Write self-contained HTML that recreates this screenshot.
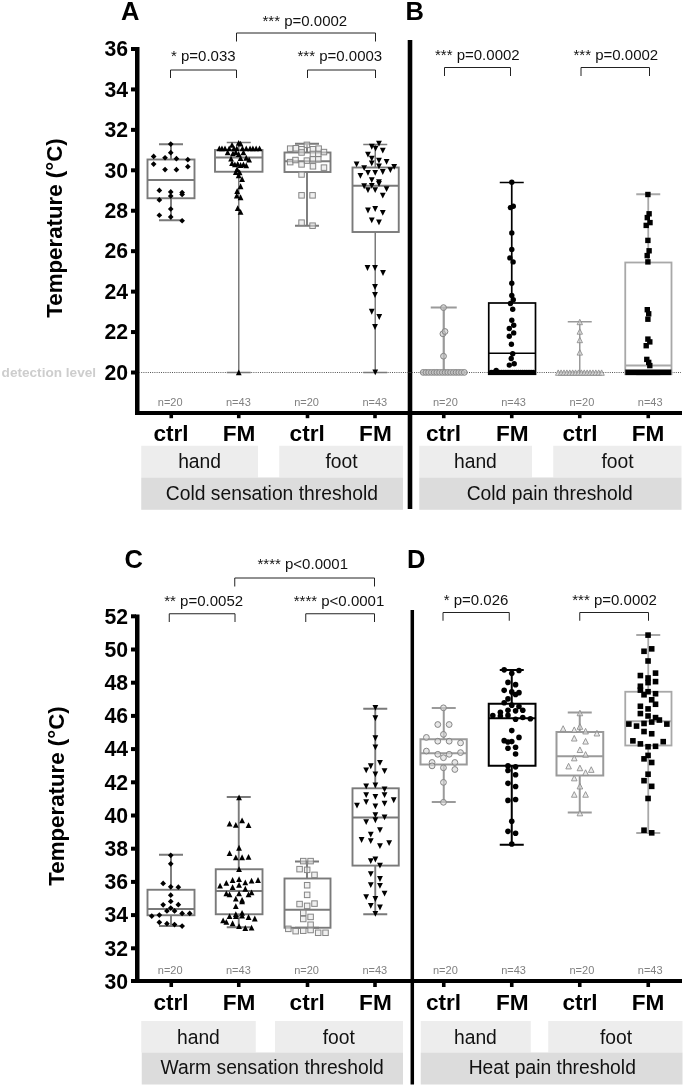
<!DOCTYPE html>
<html lang="en"><head><meta charset="utf-8"><title>Thermal thresholds</title>
<style>html,body{margin:0;padding:0;background:#fff}svg{display:block}text{font-family:"Liberation Sans", Arial, Helvetica, sans-serif}.b{font-weight:700}.tk{font-weight:700;font-size:21.2px;text-anchor:end}.xl{font-weight:700;font-size:22.6px;text-anchor:middle}.pv{font-size:15px;fill:#111}.n{font-size:11px;fill:#808080;text-anchor:middle}.g{font-size:19.3px;text-anchor:middle;fill:#111}.pl{font-weight:700;font-size:25.5px}</style></head><body>
<svg width="685" height="1088" viewBox="0 0 685 1088">
<rect width="685" height="1088" fill="#fff"/>
<rect x="141.25" y="445.75" width="116.75" height="31.75" fill="#ededed"/>
<rect x="279.25" y="445.75" width="123.75" height="31.75" fill="#ededed"/>
<rect x="419.25" y="445.75" width="112.75" height="31.75" fill="#ededed"/>
<rect x="553.25" y="445.75" width="128.25" height="31.75" fill="#ededed"/>
<rect x="141.25" y="477.5" width="261.75" height="32.3" fill="#dcdcdc"/>
<rect x="419.25" y="477.5" width="262.25" height="32.3" fill="#dcdcdc"/>
<rect x="141.25" y="1021" width="114.5" height="31.5" fill="#ededed"/>
<rect x="275" y="1021" width="128" height="31.5" fill="#ededed"/>
<rect x="420.75" y="1021" width="110" height="31.5" fill="#ededed"/>
<rect x="548.25" y="1021" width="134.25" height="31.5" fill="#ededed"/>
<rect x="141.75" y="1052.5" width="261.25" height="32" fill="#dcdcdc"/>
<rect x="420.75" y="1052.5" width="261.75" height="32" fill="#dcdcdc"/>
<text class="g" x="199.6" y="467.5">hand</text>
<text class="g" x="341.5" y="467.5">foot</text>
<text class="g" x="475.4" y="467.5">hand</text>
<text class="g" x="617.5" y="467.5">foot</text>
<text class="g" x="271.9" y="500">Cold sensation threshold</text>
<text class="g" x="549.75" y="500">Cold pain threshold</text>
<text class="g" x="198.4" y="1043.5">hand</text>
<text class="g" x="338.75" y="1043.5">foot</text>
<text class="g" x="475.4" y="1043.5">hand</text>
<text class="g" x="616.1" y="1043.5">foot</text>
<text class="g" x="272.1" y="1074.25">Warm sensation threshold</text>
<text class="g" x="552.25" y="1074.25">Heat pain threshold</text>
<g stroke="#000" fill="none">
<path d="M137.25 47V415" stroke-width="4.5"/>
<path d="M135 413.1H682" stroke-width="4"/>
<path d="M410 40V509" stroke-width="4.6"/>
<path d="M131 372.5H136" stroke-width="4"/>
<path d="M131 332.06H136" stroke-width="4"/>
<path d="M131 291.62H136" stroke-width="4"/>
<path d="M131 251.18H136" stroke-width="4"/>
<path d="M131 210.74H136" stroke-width="4"/>
<path d="M131 170.3H136" stroke-width="4"/>
<path d="M131 129.86H136" stroke-width="4"/>
<path d="M131 89.42H136" stroke-width="4"/>
<path d="M131 48.98H136" stroke-width="4"/>
<path d="M171.25 414V418.2" stroke-width="3.6"/>
<path d="M238.75 414V418.2" stroke-width="3.6"/>
<path d="M307.5 414V418.2" stroke-width="3.6"/>
<path d="M375 414V418.2" stroke-width="3.6"/>
<path d="M443.75 414V418.2" stroke-width="3.6"/>
<path d="M511.75 414V418.2" stroke-width="3.6"/>
<path d="M579.75 414V418.2" stroke-width="3.6"/>
<path d="M648.25 414V418.2" stroke-width="3.6"/>
<path d="M137.25 614.5V983" stroke-width="4.5"/>
<path d="M131 981.1H682" stroke-width="4"/>
<path d="M412.3 610V1084.5" stroke-width="3.5"/>
<path d="M131 948.3H136" stroke-width="4"/>
<path d="M131 915.1H136" stroke-width="4"/>
<path d="M131 881.9H136" stroke-width="4"/>
<path d="M131 848.7H136" stroke-width="4"/>
<path d="M131 815.5H136" stroke-width="4"/>
<path d="M131 782.3H136" stroke-width="4"/>
<path d="M131 749.1H136" stroke-width="4"/>
<path d="M131 715.9H136" stroke-width="4"/>
<path d="M131 682.7H136" stroke-width="4"/>
<path d="M131 649.5H136" stroke-width="4"/>
<path d="M131 616.3H136" stroke-width="4"/>
<path d="M171.25 982V987" stroke-width="3.6"/>
<path d="M238.75 982V987" stroke-width="3.6"/>
<path d="M307.5 982V987" stroke-width="3.6"/>
<path d="M375 982V987" stroke-width="3.6"/>
<path d="M443.75 982V987" stroke-width="3.6"/>
<path d="M511.75 982V987" stroke-width="3.6"/>
<path d="M579.75 982V987" stroke-width="3.6"/>
<path d="M648.25 982V987" stroke-width="3.6"/>
</g>
<text class="tk" x="128" y="379.8">20</text>
<text class="tk" x="128" y="339.36">22</text>
<text class="tk" x="128" y="298.92">24</text>
<text class="tk" x="128" y="258.48">26</text>
<text class="tk" x="128" y="218.04">28</text>
<text class="tk" x="128" y="177.6">30</text>
<text class="tk" x="128" y="137.16">32</text>
<text class="tk" x="128" y="96.72">34</text>
<text class="tk" x="128" y="56.28">36</text>
<text class="tk" x="128" y="988.8">30</text>
<text class="tk" x="128" y="955.6">32</text>
<text class="tk" x="128" y="922.4">34</text>
<text class="tk" x="128" y="889.2">36</text>
<text class="tk" x="128" y="856">38</text>
<text class="tk" x="128" y="822.8">40</text>
<text class="tk" x="128" y="789.6">42</text>
<text class="tk" x="128" y="756.4">44</text>
<text class="tk" x="128" y="723.2">46</text>
<text class="tk" x="128" y="690">48</text>
<text class="tk" x="128" y="656.8">50</text>
<text class="tk" x="128" y="623.6">52</text>
<text class="b" font-size="22.3" text-anchor="middle" transform="translate(62.2 228) rotate(-90)">Temperature (°C)</text>
<text class="b" font-size="22.3" text-anchor="middle" transform="translate(64 796) rotate(-90)">Temperature (°C)</text>
<text class="b" x="1.6" y="377" font-size="13.6" fill="#cdcdcd">detection level</text>
<path d="M139 372.5H681" stroke="#555" stroke-width="1" stroke-dasharray="1 1.2" fill="none"/>
<text class="pl" x="121" y="19.5">A</text>
<text class="pl" x="405.5" y="19.5">B</text>
<text class="pl" x="124.5" y="567.5">C</text>
<text class="pl" x="407" y="567.5">D</text>
<text class="xl" x="171" y="441.3">ctrl</text>
<text class="xl" x="239" y="441.3">FM</text>
<text class="xl" x="307.2" y="441.3">ctrl</text>
<text class="xl" x="375.4" y="441.3">FM</text>
<text class="xl" x="443.5" y="441.3">ctrl</text>
<text class="xl" x="512.2" y="441.3">FM</text>
<text class="xl" x="580" y="441.3">ctrl</text>
<text class="xl" x="648.1" y="441.3">FM</text>
<text class="xl" x="171" y="1009.7">ctrl</text>
<text class="xl" x="239" y="1009.7">FM</text>
<text class="xl" x="307.2" y="1009.7">ctrl</text>
<text class="xl" x="375.4" y="1009.7">FM</text>
<text class="xl" x="443.5" y="1009.7">ctrl</text>
<text class="xl" x="512.2" y="1009.7">FM</text>
<text class="xl" x="580" y="1009.7">ctrl</text>
<text class="xl" x="648.1" y="1009.7">FM</text>
<text class="n" x="170.2" y="406.2">n=20</text>
<text class="n" x="238.4" y="406.2">n=43</text>
<text class="n" x="306.6" y="406.2">n=20</text>
<text class="n" x="374.8" y="406.2">n=43</text>
<text class="n" x="445.4" y="406.2">n=20</text>
<text class="n" x="513.6" y="406.2">n=43</text>
<text class="n" x="581.9" y="406.2">n=20</text>
<text class="n" x="650.2" y="406.2">n=43</text>
<text class="n" x="170.2" y="974">n=20</text>
<text class="n" x="238.4" y="974">n=43</text>
<text class="n" x="306.6" y="974">n=20</text>
<text class="n" x="374.8" y="974">n=43</text>
<text class="n" x="445.4" y="974">n=20</text>
<text class="n" x="513.6" y="974">n=43</text>
<text class="n" x="581.9" y="974">n=20</text>
<text class="n" x="650.2" y="974">n=43</text>
<path d="M170.5 78V70H236.5V78" stroke="#222" stroke-width="1" fill="none"/>
<text class="pv" x="171" y="60.9" text-anchor="start">* p=0.033</text>
<path d="M307.5 78V70H375.5V78" stroke="#222" stroke-width="1" fill="none"/>
<text class="pv" x="297.5" y="60.9" text-anchor="start">*** p=0.0003</text>
<path d="M236.5 41.5V33H375.5V41.5" stroke="#222" stroke-width="1" fill="none"/>
<text class="pv" x="262.5" y="25.6" text-anchor="start">*** p=0.0002</text>
<path d="M444.5 76V67.5H510.5V76" stroke="#222" stroke-width="1" fill="none"/>
<text class="pv" x="435" y="60.1" text-anchor="start">*** p=0.0002</text>
<path d="M581 76V67.5H649.5V76" stroke="#222" stroke-width="1" fill="none"/>
<text class="pv" x="573.5" y="60.1" text-anchor="start">*** p=0.0002</text>
<path d="M169.25 622V613.75H235V622" stroke="#222" stroke-width="1" fill="none"/>
<text class="pv" x="164.25" y="606.4" text-anchor="start">** p=0.0052</text>
<path d="M305.75 622V613.75H374.5V622" stroke="#222" stroke-width="1" fill="none"/>
<text class="pv" x="293.75" y="606.4" text-anchor="start">**** p&lt;0.0001</text>
<path d="M234.75 586.5V578H374.5V586.5" stroke="#222" stroke-width="1" fill="none"/>
<text class="pv" x="257.5" y="569.4" text-anchor="start">**** p&lt;0.0001</text>
<path d="M443 620.75V612.5H509.25V620.75" stroke="#222" stroke-width="1" fill="none"/>
<text class="pv" x="443.75" y="605.15" text-anchor="start">* p=0.026</text>
<path d="M579.75 620.75V612.5H648.5V620.75" stroke="#222" stroke-width="1" fill="none"/>
<text class="pv" x="572.25" y="605.15" text-anchor="start">*** p=0.0002</text>
<g stroke="#7a7a7a" fill="none" stroke-width="1.9"><path d="M171 144.25V159.5M171 198.25V220.25M159 144.25H183M159 220.25H183" stroke-width="1.9"/><rect x="147.5" y="159.5" width="47" height="38.75"/><path d="M147.5 180H194.5"/></g>
<g stroke="#7a7a7a" fill="none" stroke-width="1.9"><path d="M238.75 142.5V150M238.75 171.75V372.5M226.75 142.5H250.75M226.75 372.5H250.75" stroke-width="1.5"/><rect x="215" y="150" width="47.5" height="21.75"/><path d="M215 157.5H262.5"/></g>
<g stroke="#7a7a7a" fill="none" stroke-width="1.9"><path d="M307 143.75V152.5M307 172V225.75M295 143.75H319M295 225.75H319" stroke-width="1.9"/><rect x="284.5" y="152.5" width="46" height="19.5"/><path d="M284.5 161.25H330.5"/></g>
<g stroke="#7a7a7a" fill="none" stroke-width="1.9"><path d="M375.25 144.5V167.5M375.25 232V372.5M363.25 144.5H387.25M363.25 372.5H387.25" stroke-width="1.5"/><rect x="352.5" y="167.5" width="46.25" height="64.5"/><path d="M352.5 185.75H398.75"/></g>
<g stroke="#9a9a9a" fill="none" stroke-width="2.2"><path d="M443.75 307.5V372.5M443.75 372.5V372.5M430.75 307.5H456.75M430.75 372.5H456.75" stroke-width="2.2"/><rect x="420" y="372.5" width="47.5" height="0"/><path d="M420 372.5H467.5"/></g>
<g stroke="#000" fill="none" stroke-width="1.7"><path d="M511.75 182.5V303M511.75 374.25V374.25M499.75 182.5H523.75M499.75 374.25H523.75" stroke-width="1.7"/><rect x="488.75" y="303" width="46.75" height="71.25"/><path d="M488.75 353.25H535.5"/></g>
<g stroke="#9a9a9a" fill="none" stroke-width="1.5"><path d="M579.75 321.75V372.5M579.75 372.5V372.5M567.75 321.75H591.75M567.75 372.5H591.75" stroke-width="1.5"/><rect x="557" y="372.5" width="45.5" height="0"/><path d="M557 372.5H602.5"/></g>
<g stroke="#a8a8a8" fill="none" stroke-width="1.8"><path d="M648.25 194.25V262.5M648.25 374.25V374.25M636.25 194.25H660.25M636.25 374.25H660.25" stroke-width="1.8"/><rect x="625.25" y="262.5" width="46.25" height="111.75"/><path d="M625.25 365.5H671.5"/></g>
<g stroke="#7a7a7a" fill="none" stroke-width="1.9"><path d="M171 854.75V889.75M171 915.25V926M159 854.75H183M159 926H183" stroke-width="1.9"/><rect x="147.5" y="889.75" width="47" height="25.5"/><path d="M147.5 909H194.5"/></g>
<g stroke="#7a7a7a" fill="none" stroke-width="1.9"><path d="M238.75 797V869.25M238.75 914.25V927.25M226.75 797H250.75M226.75 927.25H250.75" stroke-width="1.9"/><rect x="215.75" y="869.25" width="46.75" height="45"/><path d="M215.75 891H262.5"/></g>
<g stroke="#7a7a7a" fill="none" stroke-width="1.9"><path d="M307 861.5V878.5M307 927.75V927.75M295 861.5H319M295 927.75H319" stroke-width="1.9"/><rect x="284.5" y="878.5" width="46" height="49.25"/><path d="M284.5 909.75H330.5"/></g>
<g stroke="#7a7a7a" fill="none" stroke-width="1.9"><path d="M375.25 708.75V788.3M375.25 865.6V914.25M363.25 708.75H387.25M363.25 914.25H387.25" stroke-width="1.9"/><rect x="352.5" y="788.3" width="46.25" height="77.3"/><path d="M352.5 817.5H398.75"/></g>
<g stroke="#9a9a9a" fill="none" stroke-width="2"><path d="M443.75 708V739.25M443.75 764.5V802M431.75 708H455.75M431.75 802H455.75" stroke-width="2"/><rect x="420.5" y="739.25" width="46.25" height="25.25"/><path d="M420.5 753.25H466.75"/></g>
<g stroke="#000" fill="none" stroke-width="2"><path d="M511.75 670V703.75M511.75 765.75V844.75M499.75 670H523.75M499.75 844.75H523.75" stroke-width="2"/><rect x="488.75" y="703.75" width="46.75" height="62"/><path d="M488.75 718.25H535.5"/></g>
<g stroke="#9a9a9a" fill="none" stroke-width="2"><path d="M579.75 712.5V732M579.75 775.5V812.5M567.75 712.5H591.75M567.75 812.5H591.75" stroke-width="2"/><rect x="556.5" y="732" width="46.75" height="43.5"/><path d="M556.5 756.25H603.25"/></g>
<g stroke="#a8a8a8" fill="none" stroke-width="1.8"><path d="M648.25 635V691.75M648.25 745.5V833M636.25 635H660.25M636.25 833H660.25" stroke-width="1.8"/><rect x="625.25" y="691.75" width="46.25" height="53.75"/><path d="M625.25 721.25H671.5"/></g>
<path d="M170.74 141.26L173.59 144.11L170.74 146.96L167.89 144.11Z" fill="#000"/><path d="M170.74 149.8L173.59 152.65L170.74 155.5L167.89 152.65Z" fill="#000"/><path d="M153.66 153.59L156.51 156.44L153.66 159.29L150.81 156.44Z" fill="#000"/><path d="M165.05 154.92L167.9 157.77L165.05 160.62L162.2 157.77Z" fill="#000"/><path d="M176.43 155.87L179.28 158.72L176.43 161.57L173.58 158.72Z" fill="#000"/><path d="M187.82 156.82L190.67 159.67L187.82 162.52L184.97 159.67Z" fill="#000"/><path d="M153.66 161.18L156.51 164.03L153.66 166.88L150.81 164.03Z" fill="#000"/><path d="M187.82 163.84L190.67 166.69L187.82 169.54L184.97 166.69Z" fill="#000"/><path d="M165.05 166.69L167.9 169.54L165.05 172.39L162.2 169.54Z" fill="#000"/><path d="M176.43 166.87L179.28 169.72L176.43 172.57L173.58 169.72Z" fill="#000"/><path d="M159.35 187.56L162.2 190.41L159.35 193.26L156.5 190.41Z" fill="#000"/><path d="M170.74 189.08L173.59 191.93L170.74 194.78L167.89 191.93Z" fill="#000"/><path d="M182.13 189.65L184.98 192.5L182.13 195.35L179.28 192.5Z" fill="#000"/><path d="M182.13 191.54L184.98 194.39L182.13 197.24L179.28 194.39Z" fill="#000"/><path d="M170.74 193.25L173.59 196.1L170.74 198.95L167.89 196.1Z" fill="#000"/><path d="M159.35 197.05L162.2 199.9L159.35 202.75L156.5 199.9Z" fill="#000"/><path d="M170.74 206.15L173.59 209L170.74 211.85L167.89 209Z" fill="#000"/><path d="M159.35 212.42L162.2 215.27L159.35 218.12L156.5 215.27Z" fill="#000"/><path d="M170.74 214.12L173.59 216.97L170.74 219.82L167.89 216.97Z" fill="#000"/><path d="M182.13 217.92L184.98 220.77L182.13 223.62L179.28 220.77Z" fill="#000"/>
<path d="M238.67 140.07L241.57 145.87L235.77 145.87Z" fill="#000"/><path d="M232.03 141.97L234.93 147.77L229.13 147.77Z" fill="#000"/><path d="M240.57 140.64L243.47 146.44L237.67 146.44Z" fill="#000"/><path d="M219.32 145.38L222.22 151.18L216.42 151.18Z" fill="#000"/><path d="M221.97 145.38L224.87 151.18L219.07 151.18Z" fill="#000"/><path d="M225.01 145.38L227.91 151.18L222.11 151.18Z" fill="#000"/><path d="M229.18 145.38L232.08 151.18L226.28 151.18Z" fill="#000"/><path d="M233.93 145.38L236.83 151.18L231.03 151.18Z" fill="#000"/><path d="M236.77 145.38L239.67 151.18L233.87 151.18Z" fill="#000"/><path d="M242.47 145.38L245.37 151.18L239.57 151.18Z" fill="#000"/><path d="M246.26 145.38L249.16 151.18L243.36 151.18Z" fill="#000"/><path d="M250.06 145.38L252.96 151.18L247.16 151.18Z" fill="#000"/><path d="M252.9 145.38L255.8 151.18L250 151.18Z" fill="#000"/><path d="M256.13 145.38L259.03 151.18L253.23 151.18Z" fill="#000"/><path d="M259.54 145.38L262.44 151.18L256.64 151.18Z" fill="#000"/><path d="M227.67 149.56L230.57 155.36L224.77 155.36Z" fill="#000"/><path d="M232.98 150.51L235.88 156.31L230.08 156.31Z" fill="#000"/><path d="M235.83 149.18L238.73 154.98L232.93 154.98Z" fill="#000"/><path d="M238.67 151.08L241.57 156.88L235.77 156.88Z" fill="#000"/><path d="M243.42 149.56L246.32 155.36L240.52 155.36Z" fill="#000"/><path d="M231.08 155.82L233.98 161.62L228.18 161.62Z" fill="#000"/><path d="M240.57 155.25L243.47 161.05L237.67 161.05Z" fill="#000"/><path d="M246.26 154.87L249.16 160.67L243.36 160.67Z" fill="#000"/><path d="M249.11 156.77L252.01 162.57L246.21 162.57Z" fill="#000"/><path d="M232.03 160.18L234.93 165.98L229.13 165.98Z" fill="#000"/><path d="M234.88 161.51L237.78 167.31L231.98 167.31Z" fill="#000"/><path d="M237.72 160.94L240.62 166.74L234.82 166.74Z" fill="#000"/><path d="M240.57 162.08L243.47 167.88L237.67 167.88Z" fill="#000"/><path d="M243.42 161.51L246.32 167.31L240.52 167.31Z" fill="#000"/><path d="M246.26 162.46L249.16 168.26L243.36 168.26Z" fill="#000"/><path d="M237.15 166.26L240.05 172.06L234.25 172.06Z" fill="#000"/><path d="M235.83 169.1L238.73 174.9L232.93 174.9Z" fill="#000"/><path d="M239.62 169.48L242.52 175.28L236.72 175.28Z" fill="#000"/><path d="M238.67 172.33L241.57 178.13L235.77 178.13Z" fill="#000"/><path d="M242.09 176.12L244.99 181.92L239.19 181.92Z" fill="#000"/><path d="M240.57 183.33L243.47 189.13L237.67 189.13Z" fill="#000"/><path d="M237.15 188.08L240.05 193.88L234.25 193.88Z" fill="#000"/><path d="M236.77 192.82L239.67 198.62L233.87 198.62Z" fill="#000"/><path d="M240.57 194.34L243.47 200.14L237.67 200.14Z" fill="#000"/><path d="M237.72 205.16L240.62 210.96L234.82 210.96Z" fill="#000"/><path d="M240.57 208.95L243.47 214.75L237.67 214.75Z" fill="#000"/><path d="M238.75 369.4L241.65 375.2L235.85 375.2Z" fill="#000"/>
<rect x="304.13" y="142.12" width="5.5" height="5.5" fill="#e4e4e4" stroke="#858585" stroke-width="1" fill-opacity="0.55"/><rect x="287.43" y="145.91" width="5.5" height="5.5" fill="#e4e4e4" stroke="#858585" stroke-width="1" fill-opacity="0.55"/><rect x="293.12" y="145.53" width="5.5" height="5.5" fill="#e4e4e4" stroke="#858585" stroke-width="1" fill-opacity="0.55"/><rect x="298.82" y="146.48" width="5.5" height="5.5" fill="#e4e4e4" stroke="#858585" stroke-width="1" fill-opacity="0.55"/><rect x="310.2" y="146.48" width="5.5" height="5.5" fill="#e4e4e4" stroke="#858585" stroke-width="1" fill-opacity="0.55"/><rect x="315.89" y="145.91" width="5.5" height="5.5" fill="#e4e4e4" stroke="#858585" stroke-width="1" fill-opacity="0.55"/><rect x="321.21" y="149.33" width="5.5" height="5.5" fill="#e4e4e4" stroke="#858585" stroke-width="1" fill-opacity="0.55"/><rect x="298.82" y="149.71" width="5.5" height="5.5" fill="#e4e4e4" stroke="#858585" stroke-width="1" fill-opacity="0.55"/><rect x="310.2" y="151.23" width="5.5" height="5.5" fill="#e4e4e4" stroke="#858585" stroke-width="1" fill-opacity="0.55"/><rect x="315.51" y="151.23" width="5.5" height="5.5" fill="#e4e4e4" stroke="#858585" stroke-width="1" fill-opacity="0.55"/><rect x="287.43" y="159.38" width="5.5" height="5.5" fill="#e4e4e4" stroke="#858585" stroke-width="1" fill-opacity="0.55"/><rect x="292.74" y="157.3" width="5.5" height="5.5" fill="#e4e4e4" stroke="#858585" stroke-width="1" fill-opacity="0.55"/><rect x="304.13" y="157.87" width="5.5" height="5.5" fill="#e4e4e4" stroke="#858585" stroke-width="1" fill-opacity="0.55"/><rect x="310.2" y="156.54" width="5.5" height="5.5" fill="#e4e4e4" stroke="#858585" stroke-width="1" fill-opacity="0.55"/><rect x="315.51" y="156.54" width="5.5" height="5.5" fill="#e4e4e4" stroke="#858585" stroke-width="1" fill-opacity="0.55"/><rect x="298.82" y="161.66" width="5.5" height="5.5" fill="#e4e4e4" stroke="#858585" stroke-width="1" fill-opacity="0.55"/><rect x="310.2" y="163.56" width="5.5" height="5.5" fill="#e4e4e4" stroke="#858585" stroke-width="1" fill-opacity="0.55"/><rect x="321.21" y="164.89" width="5.5" height="5.5" fill="#e4e4e4" stroke="#858585" stroke-width="1" fill-opacity="0.55"/><rect x="298.82" y="171.72" width="5.5" height="5.5" fill="#e4e4e4" stroke="#858585" stroke-width="1" fill-opacity="0.55"/><rect x="298.82" y="192.59" width="5.5" height="5.5" fill="#e4e4e4" stroke="#858585" stroke-width="1" fill-opacity="0.55"/><rect x="309.82" y="192.59" width="5.5" height="5.5" fill="#e4e4e4" stroke="#858585" stroke-width="1" fill-opacity="0.55"/><rect x="298.82" y="219.92" width="5.5" height="5.5" fill="#e4e4e4" stroke="#858585" stroke-width="1" fill-opacity="0.55"/><rect x="309.82" y="222.95" width="5.5" height="5.5" fill="#e4e4e4" stroke="#858585" stroke-width="1" fill-opacity="0.55"/>
<path d="M378.98 146.44L381.88 140.64L376.08 140.64Z" fill="#000"/><path d="M371.77 149.66L374.67 143.86L368.87 143.86Z" fill="#000"/><path d="M375.57 151.56L378.47 145.76L372.67 145.76Z" fill="#000"/><path d="M382.78 153.46L385.68 147.66L379.88 147.66Z" fill="#000"/><path d="M367.98 157.44L370.88 151.64L365.08 151.64Z" fill="#000"/><path d="M371.77 161.62L374.67 155.82L368.87 155.82Z" fill="#000"/><path d="M378.98 163.52L381.88 157.72L376.08 157.72Z" fill="#000"/><path d="M386.57 164.84L389.47 159.04L383.67 159.04Z" fill="#000"/><path d="M356.59 167.31L359.49 161.51L353.69 161.51Z" fill="#000"/><path d="M371.77 166.36L374.67 160.56L368.87 160.56Z" fill="#000"/><path d="M378.98 169.21L381.88 163.41L376.08 163.41Z" fill="#000"/><path d="M394.17 169.78L397.07 163.98L391.27 163.98Z" fill="#000"/><path d="M364.18 171.11L367.08 165.31L361.28 165.31Z" fill="#000"/><path d="M390.37 173L393.27 167.2L387.47 167.2Z" fill="#000"/><path d="M367.98 175.85L370.88 170.05L365.08 170.05Z" fill="#000"/><path d="M375.19 175.85L378.09 170.05L372.29 170.05Z" fill="#000"/><path d="M382.78 174.9L385.68 169.1L379.88 169.1Z" fill="#000"/><path d="M360.39 178.7L363.29 172.9L357.49 172.9Z" fill="#000"/><path d="M371.77 183.06L374.67 177.26L368.87 177.26Z" fill="#000"/><path d="M378.98 184.96L381.88 179.16L376.08 179.16Z" fill="#000"/><path d="M364.18 189.13L367.08 183.33L361.28 183.33Z" fill="#000"/><path d="M371.77 188.75L374.67 182.95L368.87 182.95Z" fill="#000"/><path d="M378.98 186.86L381.88 181.06L376.08 181.06Z" fill="#000"/><path d="M367.98 192.93L370.88 187.13L365.08 187.13Z" fill="#000"/><path d="M375.19 192.93L378.09 187.13L372.29 187.13Z" fill="#000"/><path d="M386.57 191.98L389.47 186.18L383.67 186.18Z" fill="#000"/><path d="M382.78 198.62L385.68 192.82L379.88 192.82Z" fill="#000"/><path d="M367.98 213.42L370.88 207.62L365.08 207.62Z" fill="#000"/><path d="M375.19 211.9L378.09 206.1L372.29 206.1Z" fill="#000"/><path d="M382.78 215.7L385.68 209.9L379.88 209.9Z" fill="#000"/><path d="M371.77 223.29L374.67 217.49L368.87 217.49Z" fill="#000"/><path d="M378.98 225.19L381.88 219.39L376.08 219.39Z" fill="#000"/><path d="M367.5 270.9L370.4 265.1L364.6 265.1Z" fill="#000"/><path d="M375 270.9L377.9 265.1L372.1 265.1Z" fill="#000"/><path d="M383 275.9L385.9 270.1L380.1 270.1Z" fill="#000"/><path d="M375 289.9L377.9 284.1L372.1 284.1Z" fill="#000"/><path d="M375 297.9L377.9 292.1L372.1 292.1Z" fill="#000"/><path d="M371.75 314.65L374.65 308.85L368.85 308.85Z" fill="#000"/><path d="M379.25 319.9L382.15 314.1L376.35 314.1Z" fill="#000"/><path d="M375 329.9L377.9 324.1L372.1 324.1Z" fill="#000"/><path d="M375.25 375.2L378.15 369.4L372.35 369.4Z" fill="#000"/>
<circle cx="443.5" cy="307.6" r="2.9" fill="#c8c8c8" stroke="#858585" stroke-width="1" fill-opacity="0.6"/><circle cx="442.9" cy="333.8" r="2.9" fill="#c8c8c8" stroke="#858585" stroke-width="1" fill-opacity="0.6"/><circle cx="445" cy="331.5" r="2.9" fill="#c8c8c8" stroke="#858585" stroke-width="1" fill-opacity="0.6"/><circle cx="443.5" cy="356.2" r="2.9" fill="#c8c8c8" stroke="#858585" stroke-width="1" fill-opacity="0.6"/><circle cx="423.2" cy="372.4" r="2.9" fill="#c8c8c8" stroke="#858585" stroke-width="1" fill-opacity="0.6"/><circle cx="425.94" cy="372.4" r="2.9" fill="#c8c8c8" stroke="#858585" stroke-width="1" fill-opacity="0.6"/><circle cx="428.68" cy="372.4" r="2.9" fill="#c8c8c8" stroke="#858585" stroke-width="1" fill-opacity="0.6"/><circle cx="431.42" cy="372.4" r="2.9" fill="#c8c8c8" stroke="#858585" stroke-width="1" fill-opacity="0.6"/><circle cx="434.16" cy="372.4" r="2.9" fill="#c8c8c8" stroke="#858585" stroke-width="1" fill-opacity="0.6"/><circle cx="436.9" cy="372.4" r="2.9" fill="#c8c8c8" stroke="#858585" stroke-width="1" fill-opacity="0.6"/><circle cx="439.64" cy="372.4" r="2.9" fill="#c8c8c8" stroke="#858585" stroke-width="1" fill-opacity="0.6"/><circle cx="442.38" cy="372.4" r="2.9" fill="#c8c8c8" stroke="#858585" stroke-width="1" fill-opacity="0.6"/><circle cx="445.12" cy="372.4" r="2.9" fill="#c8c8c8" stroke="#858585" stroke-width="1" fill-opacity="0.6"/><circle cx="447.86" cy="372.4" r="2.9" fill="#c8c8c8" stroke="#858585" stroke-width="1" fill-opacity="0.6"/><circle cx="450.6" cy="372.4" r="2.9" fill="#c8c8c8" stroke="#858585" stroke-width="1" fill-opacity="0.6"/><circle cx="453.34" cy="372.4" r="2.9" fill="#c8c8c8" stroke="#858585" stroke-width="1" fill-opacity="0.6"/><circle cx="456.08" cy="372.4" r="2.9" fill="#c8c8c8" stroke="#858585" stroke-width="1" fill-opacity="0.6"/><circle cx="458.82" cy="372.4" r="2.9" fill="#c8c8c8" stroke="#858585" stroke-width="1" fill-opacity="0.6"/><circle cx="461.56" cy="372.4" r="2.9" fill="#c8c8c8" stroke="#858585" stroke-width="1" fill-opacity="0.6"/><circle cx="464.3" cy="372.4" r="2.9" fill="#c8c8c8" stroke="#858585" stroke-width="1" fill-opacity="0.6"/>
<circle cx="511.8" cy="182.2" r="2.7" fill="#000"/><circle cx="510.4" cy="207.6" r="2.7" fill="#000"/><circle cx="513.3" cy="206.3" r="2.7" fill="#000"/><circle cx="511.8" cy="232.9" r="2.7" fill="#000"/><circle cx="511.8" cy="249.4" r="2.7" fill="#000"/><circle cx="509.9" cy="257.9" r="2.7" fill="#000"/><circle cx="513.1" cy="261.9" r="2.7" fill="#000"/><circle cx="511.8" cy="283.2" r="2.7" fill="#000"/><circle cx="511.8" cy="295.5" r="2.7" fill="#000"/><circle cx="513.3" cy="299.7" r="2.7" fill="#000"/><circle cx="510.4" cy="303.5" r="2.7" fill="#000"/><circle cx="512.7" cy="309.2" r="2.7" fill="#000"/><circle cx="511.8" cy="320.2" r="2.7" fill="#000"/><circle cx="513.7" cy="325.3" r="2.7" fill="#000"/><circle cx="509.3" cy="328.5" r="2.7" fill="#000"/><circle cx="513.7" cy="332.9" r="2.7" fill="#000"/><circle cx="509.3" cy="336.3" r="2.7" fill="#000"/><circle cx="511.4" cy="344.3" r="2.7" fill="#000"/><circle cx="512.7" cy="353.7" r="2.7" fill="#000"/><circle cx="511.2" cy="358.5" r="2.7" fill="#000"/><circle cx="509.3" cy="365.1" r="2.7" fill="#000"/><circle cx="514.2" cy="363.8" r="2.7" fill="#000"/><circle cx="496.2" cy="370.4" r="2.7" fill="#000"/><circle cx="491.2" cy="372.4" r="2.7" fill="#000"/><circle cx="493.3" cy="372.4" r="2.7" fill="#000"/><circle cx="495.4" cy="372.4" r="2.7" fill="#000"/><circle cx="497.5" cy="372.4" r="2.7" fill="#000"/><circle cx="499.6" cy="372.4" r="2.7" fill="#000"/><circle cx="501.7" cy="372.4" r="2.7" fill="#000"/><circle cx="503.8" cy="372.4" r="2.7" fill="#000"/><circle cx="505.9" cy="372.4" r="2.7" fill="#000"/><circle cx="508" cy="372.4" r="2.7" fill="#000"/><circle cx="510.1" cy="372.4" r="2.7" fill="#000"/><circle cx="512.2" cy="372.4" r="2.7" fill="#000"/><circle cx="514.3" cy="372.4" r="2.7" fill="#000"/><circle cx="516.4" cy="372.4" r="2.7" fill="#000"/><circle cx="518.5" cy="372.4" r="2.7" fill="#000"/><circle cx="520.6" cy="372.4" r="2.7" fill="#000"/><circle cx="522.7" cy="372.4" r="2.7" fill="#000"/><circle cx="524.8" cy="372.4" r="2.7" fill="#000"/><circle cx="526.9" cy="372.4" r="2.7" fill="#000"/><circle cx="529" cy="372.4" r="2.7" fill="#000"/><circle cx="531.1" cy="372.4" r="2.7" fill="#000"/><circle cx="533.2" cy="372.4" r="2.7" fill="#000"/>
<path d="M579.8 319.3L582.5 324.7L577.1 324.7Z" fill="#dcdcdc" stroke="#8f8f8f" stroke-width="0.9" fill-opacity="0.6"/><path d="M579.8 328.8L582.5 334.2L577.1 334.2Z" fill="#dcdcdc" stroke="#8f8f8f" stroke-width="0.9" fill-opacity="0.6"/><path d="M579.8 337.3L582.5 342.7L577.1 342.7Z" fill="#dcdcdc" stroke="#8f8f8f" stroke-width="0.9" fill-opacity="0.6"/><path d="M579.8 349.7L582.5 355.1L577.1 355.1Z" fill="#dcdcdc" stroke="#8f8f8f" stroke-width="0.9" fill-opacity="0.6"/><path d="M558.2 369.9L560.9 375.3L555.5 375.3Z" fill="#dcdcdc" stroke="#8f8f8f" stroke-width="0.9" fill-opacity="0.6"/><path d="M561.09 369.9L563.79 375.3L558.39 375.3Z" fill="#dcdcdc" stroke="#8f8f8f" stroke-width="0.9" fill-opacity="0.6"/><path d="M563.99 369.9L566.69 375.3L561.29 375.3Z" fill="#dcdcdc" stroke="#8f8f8f" stroke-width="0.9" fill-opacity="0.6"/><path d="M566.88 369.9L569.58 375.3L564.18 375.3Z" fill="#dcdcdc" stroke="#8f8f8f" stroke-width="0.9" fill-opacity="0.6"/><path d="M569.77 369.9L572.47 375.3L567.07 375.3Z" fill="#dcdcdc" stroke="#8f8f8f" stroke-width="0.9" fill-opacity="0.6"/><path d="M572.67 369.9L575.37 375.3L569.97 375.3Z" fill="#dcdcdc" stroke="#8f8f8f" stroke-width="0.9" fill-opacity="0.6"/><path d="M575.56 369.9L578.26 375.3L572.86 375.3Z" fill="#dcdcdc" stroke="#8f8f8f" stroke-width="0.9" fill-opacity="0.6"/><path d="M578.45 369.9L581.15 375.3L575.75 375.3Z" fill="#dcdcdc" stroke="#8f8f8f" stroke-width="0.9" fill-opacity="0.6"/><path d="M581.35 369.9L584.05 375.3L578.65 375.3Z" fill="#dcdcdc" stroke="#8f8f8f" stroke-width="0.9" fill-opacity="0.6"/><path d="M584.24 369.9L586.94 375.3L581.54 375.3Z" fill="#dcdcdc" stroke="#8f8f8f" stroke-width="0.9" fill-opacity="0.6"/><path d="M587.13 369.9L589.83 375.3L584.43 375.3Z" fill="#dcdcdc" stroke="#8f8f8f" stroke-width="0.9" fill-opacity="0.6"/><path d="M590.03 369.9L592.73 375.3L587.33 375.3Z" fill="#dcdcdc" stroke="#8f8f8f" stroke-width="0.9" fill-opacity="0.6"/><path d="M592.92 369.9L595.62 375.3L590.22 375.3Z" fill="#dcdcdc" stroke="#8f8f8f" stroke-width="0.9" fill-opacity="0.6"/><path d="M595.81 369.9L598.51 375.3L593.11 375.3Z" fill="#dcdcdc" stroke="#8f8f8f" stroke-width="0.9" fill-opacity="0.6"/><path d="M598.71 369.9L601.41 375.3L596.01 375.3Z" fill="#dcdcdc" stroke="#8f8f8f" stroke-width="0.9" fill-opacity="0.6"/><path d="M601.6 369.9L604.3 375.3L598.9 375.3Z" fill="#dcdcdc" stroke="#8f8f8f" stroke-width="0.9" fill-opacity="0.6"/>
<rect x="645.2" y="191.8" width="5.4" height="5.4" fill="#000"/><rect x="646.4" y="211.1" width="5.4" height="5.4" fill="#000"/><rect x="644.6" y="214.9" width="5.4" height="5.4" fill="#000"/><rect x="647.3" y="219.9" width="5.4" height="5.4" fill="#000"/><rect x="643.5" y="222.7" width="5.4" height="5.4" fill="#000"/><rect x="645.2" y="237.7" width="5.4" height="5.4" fill="#000"/><rect x="646.4" y="248.1" width="5.4" height="5.4" fill="#000"/><rect x="644.5" y="252.9" width="5.4" height="5.4" fill="#000"/><rect x="645.2" y="259.2" width="5.4" height="5.4" fill="#000"/><rect x="644.6" y="307" width="5.4" height="5.4" fill="#000"/><rect x="646" y="311.1" width="5.4" height="5.4" fill="#000"/><rect x="645.2" y="316.5" width="5.4" height="5.4" fill="#000"/><rect x="645.2" y="336.4" width="5.4" height="5.4" fill="#000"/><rect x="647.1" y="339.2" width="5.4" height="5.4" fill="#000"/><rect x="643.5" y="343" width="5.4" height="5.4" fill="#000"/><rect x="644.1" y="356.7" width="5.4" height="5.4" fill="#000"/><rect x="646" y="359.7" width="5.4" height="5.4" fill="#000"/><rect x="647.1" y="362.9" width="5.4" height="5.4" fill="#000"/>
<rect x="625.3" y="369.5" width="46" height="5.6" fill="#000"/>
<path d="M170.74 852.48L173.59 855.33L170.74 858.18L167.89 855.33Z" fill="#000"/><path d="M170.74 861.02L173.59 863.87L170.74 866.72L167.89 863.87Z" fill="#000"/><path d="M163.15 880.57L166 883.42L163.15 886.27L160.3 883.42Z" fill="#000"/><path d="M170.74 883.98L173.59 886.83L170.74 889.68L167.89 886.83Z" fill="#000"/><path d="M178.33 884.36L181.18 887.21L178.33 890.06L175.48 887.21Z" fill="#000"/><path d="M170.74 892.33L173.59 895.18L170.74 898.03L167.89 895.18Z" fill="#000"/><path d="M170.74 898.59L173.59 901.44L170.74 904.29L167.89 901.44Z" fill="#000"/><path d="M163.15 902.01L166 904.86L163.15 907.71L160.3 904.86Z" fill="#000"/><path d="M178.33 901.82L181.18 904.67L178.33 907.52L175.48 904.67Z" fill="#000"/><path d="M170.74 905.23L173.59 908.08L170.74 910.93L167.89 908.08Z" fill="#000"/><path d="M166.94 908.08L169.79 910.93L166.94 913.78L164.09 910.93Z" fill="#000"/><path d="M174.54 908.08L177.39 910.93L174.54 913.78L171.69 910.93Z" fill="#000"/><path d="M182.13 910.55L184.98 913.4L182.13 916.25L179.28 913.4Z" fill="#000"/><path d="M189.72 910.55L192.57 913.4L189.72 916.25L186.87 913.4Z" fill="#000"/><path d="M151.76 913.2L154.61 916.05L151.76 918.9L148.91 916.05Z" fill="#000"/><path d="M159.35 912.25L162.2 915.1L159.35 917.95L156.5 915.1Z" fill="#000"/><path d="M159.35 919.46L162.2 922.31L159.35 925.16L156.5 922.31Z" fill="#000"/><path d="M166.94 920.79L169.79 923.64L166.94 926.49L164.09 923.64Z" fill="#000"/><path d="M174.54 921.74L177.39 924.59L174.54 927.44L171.69 924.59Z" fill="#000"/><path d="M182.13 923.26L184.98 926.11L182.13 928.96L179.28 926.11Z" fill="#000"/>
<path d="M239.05 794.56L241.95 800.36L236.15 800.36Z" fill="#000"/><path d="M229.56 820.74L232.46 826.54L226.66 826.54Z" fill="#000"/><path d="M235.83 822.07L238.73 827.87L232.93 827.87Z" fill="#000"/><path d="M242.09 817.52L244.99 823.32L239.19 823.32Z" fill="#000"/><path d="M248.54 822.26L251.44 828.06L245.64 828.06Z" fill="#000"/><path d="M239.05 844.84L241.95 850.64L236.15 850.64Z" fill="#000"/><path d="M229.56 850.16L232.46 855.96L226.66 855.96Z" fill="#000"/><path d="M235.83 854.52L238.73 860.32L232.93 860.32Z" fill="#000"/><path d="M242.09 854.33L244.99 860.13L239.19 860.13Z" fill="#000"/><path d="M248.54 853.95L251.44 859.75L245.64 859.75Z" fill="#000"/><path d="M239.05 866.28L241.95 872.08L236.15 872.08Z" fill="#000"/><path d="M226.34 879.95L229.24 885.75L223.44 885.75Z" fill="#000"/><path d="M232.6 877.1L235.5 882.9L229.7 882.9Z" fill="#000"/><path d="M239.05 876.15L241.95 881.95L236.15 881.95Z" fill="#000"/><path d="M245.31 879.57L248.21 885.37L242.41 885.37Z" fill="#000"/><path d="M251.57 877.67L254.47 883.47L248.67 883.47Z" fill="#000"/><path d="M258.03 877.1L260.93 882.9L255.13 882.9Z" fill="#000"/><path d="M220.08 882.79L222.98 888.59L217.18 888.59Z" fill="#000"/><path d="M232.6 884.31L235.5 890.11L229.7 890.11Z" fill="#000"/><path d="M239.05 882.03L241.95 887.83L236.15 887.83Z" fill="#000"/><path d="M245.31 885.83L248.21 891.63L242.41 891.63Z" fill="#000"/><path d="M226.34 890.38L229.24 896.18L223.44 896.18Z" fill="#000"/><path d="M229.56 891.52L232.46 897.32L226.66 897.32Z" fill="#000"/><path d="M239.05 890.38L241.95 896.18L236.15 896.18Z" fill="#000"/><path d="M248.54 891.52L251.44 897.32L245.64 897.32Z" fill="#000"/><path d="M251.57 889.43L254.47 895.23L248.67 895.23Z" fill="#000"/><path d="M235.83 895.7L238.73 901.5L232.93 901.5Z" fill="#000"/><path d="M242.09 897.02L244.99 902.82L239.19 902.82Z" fill="#000"/><path d="M242.09 898.54L244.99 904.34L239.19 904.34Z" fill="#000"/><path d="M235.83 903.29L238.73 909.09L232.93 909.09Z" fill="#000"/><path d="M235.83 911.26L238.73 917.06L232.93 917.06Z" fill="#000"/><path d="M242.09 909.93L244.99 915.73L239.19 915.73Z" fill="#000"/><path d="M229.56 913.15L232.46 918.95L226.66 918.95Z" fill="#000"/><path d="M235.83 913.15L238.73 918.95L232.93 918.95Z" fill="#000"/><path d="M242.09 912.77L244.99 918.57L239.19 918.57Z" fill="#000"/><path d="M248.54 914.1L251.44 919.9L245.64 919.9Z" fill="#000"/><path d="M254.8 915.62L257.7 921.42L251.9 921.42Z" fill="#000"/><path d="M223.11 917.52L226.01 923.32L220.21 923.32Z" fill="#000"/><path d="M226.34 919.04L229.24 924.84L223.44 924.84Z" fill="#000"/><path d="M232.6 920.36L235.5 926.16L229.7 926.16Z" fill="#000"/><path d="M239.05 923.21L241.95 929.01L236.15 929.01Z" fill="#000"/><path d="M245.31 925.11L248.21 930.91L242.41 930.91Z" fill="#000"/><path d="M251.57 924.73L254.47 930.53L248.67 930.53Z" fill="#000"/>
<rect x="300.5" y="858.36" width="5.5" height="5.5" fill="#e4e4e4" stroke="#858585" stroke-width="1" fill-opacity="0.55"/><rect x="307.85" y="858.36" width="5.5" height="5.5" fill="#e4e4e4" stroke="#858585" stroke-width="1" fill-opacity="0.55"/><rect x="296.83" y="866.4" width="5.5" height="5.5" fill="#e4e4e4" stroke="#858585" stroke-width="1" fill-opacity="0.55"/><rect x="304.4" y="867.08" width="5.5" height="5.5" fill="#e4e4e4" stroke="#858585" stroke-width="1" fill-opacity="0.55"/><rect x="311.75" y="872.14" width="5.5" height="5.5" fill="#e4e4e4" stroke="#858585" stroke-width="1" fill-opacity="0.55"/><rect x="304.4" y="882.47" width="5.5" height="5.5" fill="#e4e4e4" stroke="#858585" stroke-width="1" fill-opacity="0.55"/><rect x="304.4" y="892.12" width="5.5" height="5.5" fill="#e4e4e4" stroke="#858585" stroke-width="1" fill-opacity="0.55"/><rect x="296.83" y="901.31" width="5.5" height="5.5" fill="#e4e4e4" stroke="#858585" stroke-width="1" fill-opacity="0.55"/><rect x="304.4" y="903.14" width="5.5" height="5.5" fill="#e4e4e4" stroke="#858585" stroke-width="1" fill-opacity="0.55"/><rect x="311.75" y="900.85" width="5.5" height="5.5" fill="#e4e4e4" stroke="#858585" stroke-width="1" fill-opacity="0.55"/><rect x="300.5" y="910.03" width="5.5" height="5.5" fill="#e4e4e4" stroke="#858585" stroke-width="1" fill-opacity="0.55"/><rect x="307.85" y="914.17" width="5.5" height="5.5" fill="#e4e4e4" stroke="#858585" stroke-width="1" fill-opacity="0.55"/><rect x="300.5" y="916.23" width="5.5" height="5.5" fill="#e4e4e4" stroke="#858585" stroke-width="1" fill-opacity="0.55"/><rect x="307.85" y="921.98" width="5.5" height="5.5" fill="#e4e4e4" stroke="#858585" stroke-width="1" fill-opacity="0.55"/><rect x="285.57" y="926.11" width="5.5" height="5.5" fill="#e4e4e4" stroke="#858585" stroke-width="1" fill-opacity="0.55"/><rect x="292.92" y="928.41" width="5.5" height="5.5" fill="#e4e4e4" stroke="#858585" stroke-width="1" fill-opacity="0.55"/><rect x="300.5" y="927.95" width="5.5" height="5.5" fill="#e4e4e4" stroke="#858585" stroke-width="1" fill-opacity="0.55"/><rect x="307.85" y="927.26" width="5.5" height="5.5" fill="#e4e4e4" stroke="#858585" stroke-width="1" fill-opacity="0.55"/><rect x="315.43" y="930.02" width="5.5" height="5.5" fill="#e4e4e4" stroke="#858585" stroke-width="1" fill-opacity="0.55"/><rect x="322.78" y="930.02" width="5.5" height="5.5" fill="#e4e4e4" stroke="#858585" stroke-width="1" fill-opacity="0.55"/>
<path d="M375.37 710.81L378.27 705.01L372.47 705.01Z" fill="#000"/><path d="M375.37 721.15L378.27 715.35L372.47 715.35Z" fill="#000"/><path d="M375.37 741.13L378.27 735.33L372.47 735.33Z" fill="#000"/><path d="M375.37 750.32L378.27 744.52L372.47 744.52Z" fill="#000"/><path d="M379.96 765.71L382.86 759.91L377.06 759.91Z" fill="#000"/><path d="M370.77 769.15L373.67 763.35L367.87 763.35Z" fill="#000"/><path d="M366.18 773.29L369.08 767.49L363.28 767.49Z" fill="#000"/><path d="M384.55 773.97L387.45 768.17L381.65 768.17Z" fill="#000"/><path d="M375.37 777.19L378.27 771.39L372.47 771.39Z" fill="#000"/><path d="M366.18 789.36L369.08 783.56L363.28 783.56Z" fill="#000"/><path d="M375.37 788.21L378.27 782.41L372.47 782.41Z" fill="#000"/><path d="M384.55 792.35L387.45 786.55L381.65 786.55Z" fill="#000"/><path d="M366.18 798.09L369.08 792.29L363.28 792.29Z" fill="#000"/><path d="M375.37 799.7L378.27 793.9L372.47 793.9Z" fill="#000"/><path d="M384.55 798.09L387.45 792.29L381.65 792.29Z" fill="#000"/><path d="M393.74 803.14L396.64 797.34L390.84 797.34Z" fill="#000"/><path d="M356.99 808.43L359.89 802.63L354.09 802.63Z" fill="#000"/><path d="M366.18 804.98L369.08 799.18L363.28 799.18Z" fill="#000"/><path d="M375.37 809.34L378.27 803.54L372.47 803.54Z" fill="#000"/><path d="M384.55 806.59L387.45 800.79L381.65 800.79Z" fill="#000"/><path d="M375.37 818.07L378.27 812.27L372.47 812.27Z" fill="#000"/><path d="M384.55 820.37L387.45 814.57L381.65 814.57Z" fill="#000"/><path d="M366.18 824.96L369.08 819.16L363.28 819.16Z" fill="#000"/><path d="M375.37 823.13L378.27 817.33L372.47 817.33Z" fill="#000"/><path d="M379.96 833L382.86 827.2L377.06 827.2Z" fill="#000"/><path d="M370.77 837.59L373.67 831.79L367.87 831.79Z" fill="#000"/><path d="M361.59 842.88L364.49 837.08L358.69 837.08Z" fill="#000"/><path d="M370.77 844.03L373.67 838.23L367.87 838.23Z" fill="#000"/><path d="M379.96 849.08L382.86 843.28L377.06 843.28Z" fill="#000"/><path d="M389.15 846.09L392.05 840.29L386.25 840.29Z" fill="#000"/><path d="M370.77 864.01L373.67 858.21L367.87 858.21Z" fill="#000"/><path d="M375.37 862.4L378.27 856.6L372.47 856.6Z" fill="#000"/><path d="M379.96 868.6L382.86 862.8L377.06 862.8Z" fill="#000"/><path d="M370.77 877.1L373.67 871.3L367.87 871.3Z" fill="#000"/><path d="M379.96 881.92L382.86 876.12L377.06 876.12Z" fill="#000"/><path d="M370.77 888.12L373.67 882.32L367.87 882.32Z" fill="#000"/><path d="M379.96 888.81L382.86 883.01L377.06 883.01Z" fill="#000"/><path d="M384.55 896.62L387.45 890.82L381.65 890.82Z" fill="#000"/><path d="M366.18 900.07L369.08 894.27L363.28 894.27Z" fill="#000"/><path d="M375.37 901.9L378.27 896.1L372.47 896.1Z" fill="#000"/><path d="M370.77 908.79L373.67 902.99L367.87 902.99Z" fill="#000"/><path d="M379.96 910.4L382.86 904.6L377.06 904.6Z" fill="#000"/><path d="M375.37 916.83L378.27 911.03L372.47 911.03Z" fill="#000"/>
<circle cx="443.46" cy="707.82" r="2.9" fill="#d8d8d8" stroke="#858585" stroke-width="1" fill-opacity="0.6"/><circle cx="437.77" cy="724.52" r="2.9" fill="#d8d8d8" stroke="#858585" stroke-width="1" fill-opacity="0.6"/><circle cx="449.16" cy="724.52" r="2.9" fill="#d8d8d8" stroke="#858585" stroke-width="1" fill-opacity="0.6"/><circle cx="443.46" cy="734.38" r="2.9" fill="#d8d8d8" stroke="#858585" stroke-width="1" fill-opacity="0.6"/><circle cx="426.39" cy="737.42" r="2.9" fill="#d8d8d8" stroke="#858585" stroke-width="1" fill-opacity="0.6"/><circle cx="437.77" cy="741.21" r="2.9" fill="#d8d8d8" stroke="#858585" stroke-width="1" fill-opacity="0.6"/><circle cx="449.16" cy="741.21" r="2.9" fill="#d8d8d8" stroke="#858585" stroke-width="1" fill-opacity="0.6"/><circle cx="460.54" cy="742.92" r="2.9" fill="#d8d8d8" stroke="#858585" stroke-width="1" fill-opacity="0.6"/><circle cx="426.39" cy="751.08" r="2.9" fill="#d8d8d8" stroke="#858585" stroke-width="1" fill-opacity="0.6"/><circle cx="437.77" cy="754.31" r="2.9" fill="#d8d8d8" stroke="#858585" stroke-width="1" fill-opacity="0.6"/><circle cx="449.16" cy="754.31" r="2.9" fill="#d8d8d8" stroke="#858585" stroke-width="1" fill-opacity="0.6"/><circle cx="460.54" cy="752.6" r="2.9" fill="#d8d8d8" stroke="#858585" stroke-width="1" fill-opacity="0.6"/><circle cx="443.46" cy="757.72" r="2.9" fill="#d8d8d8" stroke="#858585" stroke-width="1" fill-opacity="0.6"/><circle cx="432.08" cy="762.47" r="2.9" fill="#d8d8d8" stroke="#858585" stroke-width="1" fill-opacity="0.6"/><circle cx="454.85" cy="762.47" r="2.9" fill="#d8d8d8" stroke="#858585" stroke-width="1" fill-opacity="0.6"/><circle cx="432.08" cy="765.88" r="2.9" fill="#d8d8d8" stroke="#858585" stroke-width="1" fill-opacity="0.6"/><circle cx="443.46" cy="767.78" r="2.9" fill="#d8d8d8" stroke="#858585" stroke-width="1" fill-opacity="0.6"/><circle cx="454.85" cy="769.49" r="2.9" fill="#d8d8d8" stroke="#858585" stroke-width="1" fill-opacity="0.6"/><circle cx="443.46" cy="782.39" r="2.9" fill="#d8d8d8" stroke="#858585" stroke-width="1" fill-opacity="0.6"/><circle cx="443.46" cy="802.31" r="2.9" fill="#d8d8d8" stroke="#858585" stroke-width="1" fill-opacity="0.6"/>
<circle cx="504.18" cy="669.87" r="2.8" fill="#000"/><circle cx="518.98" cy="670.44" r="2.8" fill="#000"/><circle cx="511.77" cy="673.28" r="2.8" fill="#000"/><circle cx="507.98" cy="682.39" r="2.8" fill="#000"/><circle cx="515.57" cy="684.67" r="2.8" fill="#000"/><circle cx="504.18" cy="690.36" r="2.8" fill="#000"/><circle cx="511.77" cy="691.88" r="2.8" fill="#000"/><circle cx="518.98" cy="692.64" r="2.8" fill="#000"/><circle cx="515.57" cy="694.54" r="2.8" fill="#000"/><circle cx="507.98" cy="698.9" r="2.8" fill="#000"/><circle cx="504.18" cy="702.69" r="2.8" fill="#000"/><circle cx="511.77" cy="705.16" r="2.8" fill="#000"/><circle cx="518.98" cy="706.49" r="2.8" fill="#000"/><circle cx="507.98" cy="710.28" r="2.8" fill="#000"/><circle cx="515.57" cy="710.85" r="2.8" fill="#000"/><circle cx="522.78" cy="710.28" r="2.8" fill="#000"/><circle cx="500.39" cy="712.18" r="2.8" fill="#000"/><circle cx="492.8" cy="715.6" r="2.8" fill="#000"/><circle cx="500.39" cy="715.98" r="2.8" fill="#000"/><circle cx="507.98" cy="715.41" r="2.8" fill="#000"/><circle cx="515.57" cy="719.2" r="2.8" fill="#000"/><circle cx="522.78" cy="717.5" r="2.8" fill="#000"/><circle cx="530.37" cy="718.82" r="2.8" fill="#000"/><circle cx="511.77" cy="730.59" r="2.8" fill="#000"/><circle cx="518.98" cy="737.42" r="2.8" fill="#000"/><circle cx="504.18" cy="740.65" r="2.8" fill="#000"/><circle cx="507.98" cy="741.97" r="2.8" fill="#000"/><circle cx="511.77" cy="741.59" r="2.8" fill="#000"/><circle cx="507.98" cy="748.24" r="2.8" fill="#000"/><circle cx="515.57" cy="747.29" r="2.8" fill="#000"/><circle cx="515.57" cy="753.93" r="2.8" fill="#000"/><circle cx="507.98" cy="765.88" r="2.8" fill="#000"/><circle cx="515.57" cy="766.83" r="2.8" fill="#000"/><circle cx="507.98" cy="770.44" r="2.8" fill="#000"/><circle cx="515.57" cy="774.8" r="2.8" fill="#000"/><circle cx="507.98" cy="783.34" r="2.8" fill="#000"/><circle cx="515.57" cy="786.57" r="2.8" fill="#000"/><circle cx="507.98" cy="800.42" r="2.8" fill="#000"/><circle cx="515.57" cy="799.47" r="2.8" fill="#000"/><circle cx="511.77" cy="821.29" r="2.8" fill="#000"/><circle cx="507.98" cy="831.35" r="2.8" fill="#000"/><circle cx="515.57" cy="833.24" r="2.8" fill="#000"/><circle cx="511.77" cy="844.06" r="2.8" fill="#000"/>
<path d="M579.92 710.15L582.72 715.75L577.12 715.75Z" fill="#e0e0e0" stroke="#8f8f8f" stroke-width="0.9" fill-opacity="0.6"/><path d="M579.92 723.7L582.72 729.3L577.12 729.3Z" fill="#e0e0e0" stroke="#8f8f8f" stroke-width="0.9" fill-opacity="0.6"/><path d="M563.14 725.72L565.94 731.32L560.34 731.32Z" fill="#e0e0e0" stroke="#8f8f8f" stroke-width="0.9" fill-opacity="0.6"/><path d="M574.26 726.93L577.06 732.53L571.46 732.53Z" fill="#e0e0e0" stroke="#8f8f8f" stroke-width="0.9" fill-opacity="0.6"/><path d="M585.58 728.35L588.38 733.95L582.78 733.95Z" fill="#e0e0e0" stroke="#8f8f8f" stroke-width="0.9" fill-opacity="0.6"/><path d="M596.91 730.37L599.71 735.97L594.11 735.97Z" fill="#e0e0e0" stroke="#8f8f8f" stroke-width="0.9" fill-opacity="0.6"/><path d="M574.26 735.42L577.06 741.02L571.46 741.02Z" fill="#e0e0e0" stroke="#8f8f8f" stroke-width="0.9" fill-opacity="0.6"/><path d="M585.58 738.46L588.38 744.06L582.78 744.06Z" fill="#e0e0e0" stroke="#8f8f8f" stroke-width="0.9" fill-opacity="0.6"/><path d="M579.92 746.95L582.72 752.55L577.12 752.55Z" fill="#e0e0e0" stroke="#8f8f8f" stroke-width="0.9" fill-opacity="0.6"/><path d="M585.58 751.6L588.38 757.2L582.78 757.2Z" fill="#e0e0e0" stroke="#8f8f8f" stroke-width="0.9" fill-opacity="0.6"/><path d="M574.26 755.24L577.06 760.84L571.46 760.84Z" fill="#e0e0e0" stroke="#8f8f8f" stroke-width="0.9" fill-opacity="0.6"/><path d="M568.6 763.32L571.4 768.92L565.8 768.92Z" fill="#e0e0e0" stroke="#8f8f8f" stroke-width="0.9" fill-opacity="0.6"/><path d="M579.92 765.14L582.72 770.74L577.12 770.74Z" fill="#e0e0e0" stroke="#8f8f8f" stroke-width="0.9" fill-opacity="0.6"/><path d="M591.25 766.76L594.05 772.36L588.45 772.36Z" fill="#e0e0e0" stroke="#8f8f8f" stroke-width="0.9" fill-opacity="0.6"/><path d="M585.58 769.79L588.38 775.39L582.78 775.39Z" fill="#e0e0e0" stroke="#8f8f8f" stroke-width="0.9" fill-opacity="0.6"/><path d="M574.26 775.25L577.06 780.85L571.46 780.85Z" fill="#e0e0e0" stroke="#8f8f8f" stroke-width="0.9" fill-opacity="0.6"/><path d="M579.92 783.34L582.72 788.94L577.12 788.94Z" fill="#e0e0e0" stroke="#8f8f8f" stroke-width="0.9" fill-opacity="0.6"/><path d="M574.26 791.63L577.06 797.23L571.46 797.23Z" fill="#e0e0e0" stroke="#8f8f8f" stroke-width="0.9" fill-opacity="0.6"/><path d="M585.58 791.63L588.38 797.23L582.78 797.23Z" fill="#e0e0e0" stroke="#8f8f8f" stroke-width="0.9" fill-opacity="0.6"/><path d="M579.92 810.23L582.72 815.83L577.12 815.83Z" fill="#e0e0e0" stroke="#8f8f8f" stroke-width="0.9" fill-opacity="0.6"/>
<rect x="645.26" y="632.31" width="5.6" height="5.6" fill="#000"/><rect x="648.9" y="646.06" width="5.6" height="5.6" fill="#000"/><rect x="641.22" y="648.48" width="5.6" height="5.6" fill="#000"/><rect x="645.26" y="658.19" width="5.6" height="5.6" fill="#000"/><rect x="637.58" y="672.75" width="5.6" height="5.6" fill="#000"/><rect x="652.74" y="670.32" width="5.6" height="5.6" fill="#000"/><rect x="645.26" y="675.17" width="5.6" height="5.6" fill="#000"/><rect x="645.26" y="679.82" width="5.6" height="5.6" fill="#000"/><rect x="652.74" y="678.81" width="5.6" height="5.6" fill="#000"/><rect x="637.58" y="683.46" width="5.6" height="5.6" fill="#000"/><rect x="637.58" y="687.3" width="5.6" height="5.6" fill="#000"/><rect x="645.26" y="688.92" width="5.6" height="5.6" fill="#000"/><rect x="652.74" y="690.94" width="5.6" height="5.6" fill="#000"/><rect x="641.22" y="691.95" width="5.6" height="5.6" fill="#000"/><rect x="648.9" y="697.01" width="5.6" height="5.6" fill="#000"/><rect x="652.74" y="701.46" width="5.6" height="5.6" fill="#000"/><rect x="637.58" y="703.48" width="5.6" height="5.6" fill="#000"/><rect x="645.26" y="706.11" width="5.6" height="5.6" fill="#000"/><rect x="637.58" y="710.76" width="5.6" height="5.6" fill="#000"/><rect x="645.26" y="713.18" width="5.6" height="5.6" fill="#000"/><rect x="652.74" y="714.8" width="5.6" height="5.6" fill="#000"/><rect x="656.58" y="717.23" width="5.6" height="5.6" fill="#000"/><rect x="648.9" y="719.25" width="5.6" height="5.6" fill="#000"/><rect x="641.22" y="720.66" width="5.6" height="5.6" fill="#000"/><rect x="626.05" y="721.27" width="5.6" height="5.6" fill="#000"/><rect x="633.73" y="723.29" width="5.6" height="5.6" fill="#000"/><rect x="664.06" y="721.27" width="5.6" height="5.6" fill="#000"/><rect x="641.22" y="728.75" width="5.6" height="5.6" fill="#000"/><rect x="648.9" y="730.97" width="5.6" height="5.6" fill="#000"/><rect x="630.1" y="738.05" width="5.6" height="5.6" fill="#000"/><rect x="637.58" y="741.08" width="5.6" height="5.6" fill="#000"/><rect x="645.26" y="743.91" width="5.6" height="5.6" fill="#000"/><rect x="652.74" y="743.51" width="5.6" height="5.6" fill="#000"/><rect x="660.42" y="738.86" width="5.6" height="5.6" fill="#000"/><rect x="645.26" y="752.61" width="5.6" height="5.6" fill="#000"/><rect x="641.22" y="756.05" width="5.6" height="5.6" fill="#000"/><rect x="648.9" y="759.68" width="5.6" height="5.6" fill="#000"/><rect x="645.26" y="771.41" width="5.6" height="5.6" fill="#000"/><rect x="641.22" y="777.88" width="5.6" height="5.6" fill="#000"/><rect x="648.9" y="783.54" width="5.6" height="5.6" fill="#000"/><rect x="645.26" y="795.67" width="5.6" height="5.6" fill="#000"/><rect x="641.22" y="827.42" width="5.6" height="5.6" fill="#000"/><rect x="648.9" y="830.04" width="5.6" height="5.6" fill="#000"/>
</svg></body></html>
